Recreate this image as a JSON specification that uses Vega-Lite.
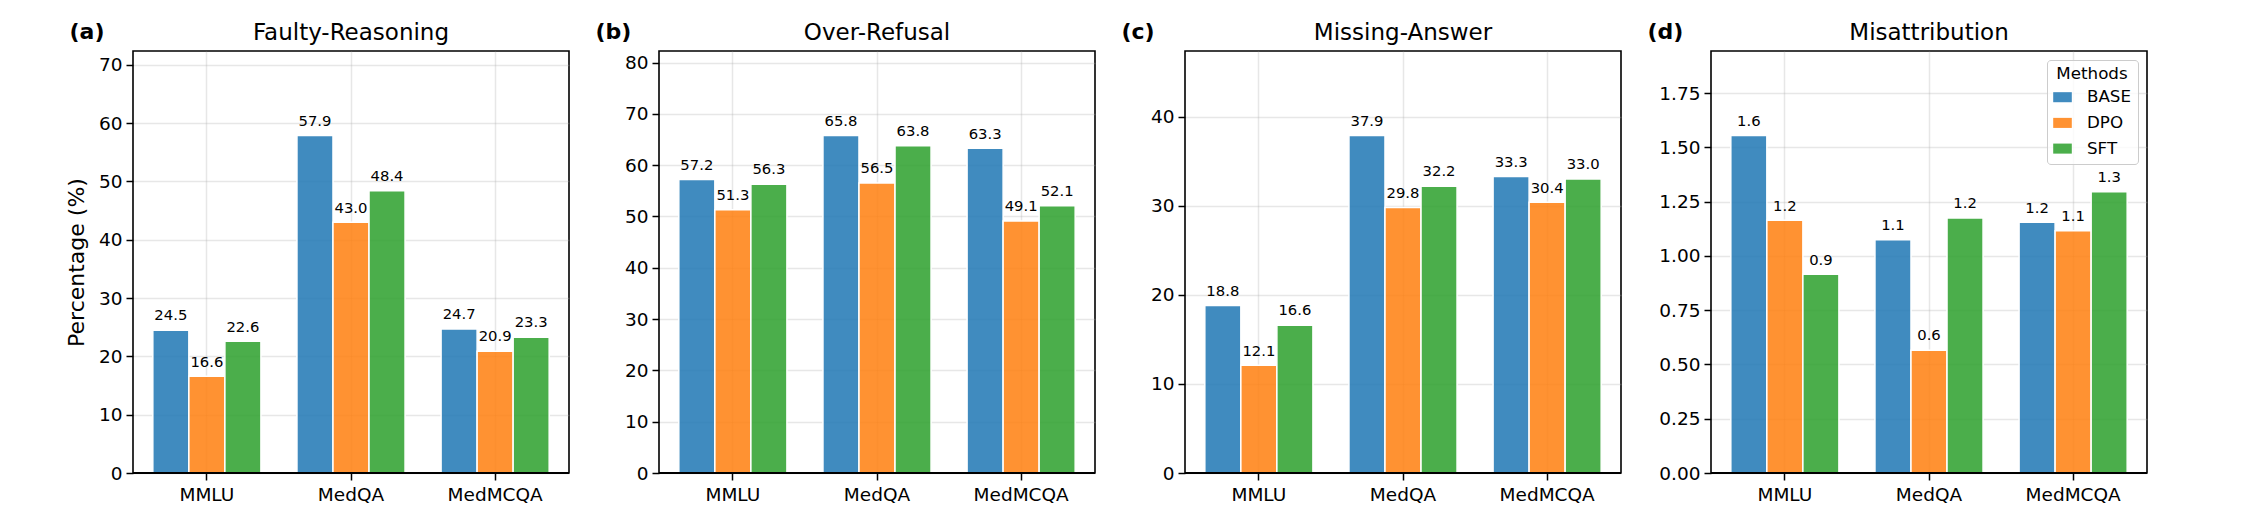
{
  "$schema": "https://vega.github.io/schema/vega-lite/v6.json",
  "background": "white",
  "padding": {"left": 64, "top": 19, "right": 0, "bottom": 0},
  "spacing": 23,
  "datasets": {
    "a": [
      {"dataset": "MMLU", "method": "BASE", "value": 24.5},
      {"dataset": "MMLU", "method": "DPO", "value": 16.6},
      {"dataset": "MMLU", "method": "SFT", "value": 22.6},
      {"dataset": "MedQA", "method": "BASE", "value": 57.9},
      {"dataset": "MedQA", "method": "DPO", "value": 43.0},
      {"dataset": "MedQA", "method": "SFT", "value": 48.4},
      {"dataset": "MedMCQA", "method": "BASE", "value": 24.7},
      {"dataset": "MedMCQA", "method": "DPO", "value": 20.9},
      {"dataset": "MedMCQA", "method": "SFT", "value": 23.3}
    ],
    "b": [
      {"dataset": "MMLU", "method": "BASE", "value": 57.2},
      {"dataset": "MMLU", "method": "DPO", "value": 51.3},
      {"dataset": "MMLU", "method": "SFT", "value": 56.3},
      {"dataset": "MedQA", "method": "BASE", "value": 65.8},
      {"dataset": "MedQA", "method": "DPO", "value": 56.5},
      {"dataset": "MedQA", "method": "SFT", "value": 63.8},
      {"dataset": "MedMCQA", "method": "BASE", "value": 63.3},
      {"dataset": "MedMCQA", "method": "DPO", "value": 49.1},
      {"dataset": "MedMCQA", "method": "SFT", "value": 52.1}
    ],
    "c": [
      {"dataset": "MMLU", "method": "BASE", "value": 18.8},
      {"dataset": "MMLU", "method": "DPO", "value": 12.1},
      {"dataset": "MMLU", "method": "SFT", "value": 16.6},
      {"dataset": "MedQA", "method": "BASE", "value": 37.9},
      {"dataset": "MedQA", "method": "DPO", "value": 29.8},
      {"dataset": "MedQA", "method": "SFT", "value": 32.2},
      {"dataset": "MedMCQA", "method": "BASE", "value": 33.3},
      {"dataset": "MedMCQA", "method": "DPO", "value": 30.4},
      {"dataset": "MedMCQA", "method": "SFT", "value": 33.0}
    ],
    "d": [
      {"dataset": "MMLU", "method": "BASE", "value": 1.555},
      {"dataset": "MMLU", "method": "DPO", "value": 1.164},
      {"dataset": "MMLU", "method": "SFT", "value": 0.915},
      {"dataset": "MedQA", "method": "BASE", "value": 1.075},
      {"dataset": "MedQA", "method": "DPO", "value": 0.566},
      {"dataset": "MedQA", "method": "SFT", "value": 1.175},
      {"dataset": "MedMCQA", "method": "BASE", "value": 1.155},
      {"dataset": "MedMCQA", "method": "DPO", "value": 1.116},
      {"dataset": "MedMCQA", "method": "SFT", "value": 1.296}
    ]
  },
  "hconcat": [
    {
      "width": 436, "height": 422,
      "data": {"name": "a"},
      "title": {"text": "Faulty-Reasoning"},
      "layer": [
        {
          "mark": {"type": "bar", "stroke": "white", "strokeWidth": 1.5, "fillOpacity": 0.85},
          "encoding": {
            "x": {"field": "dataset", "type": "nominal", "sort": ["MMLU", "MedQA", "MedMCQA"], "scale": {"paddingInner": 0, "paddingOuter": 0.0125},
                  "axis": {"title": "(a)", "titleX": -64, "titleY": -434.4, "titleAlign": "left", "titleBaseline": "alphabetic", "titleAngle": 0, "titleFontSize": 22, "titleFontWeight": "bold", "labelAngle": 0, "labelPadding": 5, "grid": true}},
            "xOffset": {"field": "method", "type": "nominal", "sort": ["BASE", "DPO", "SFT"], "scale": {"paddingInner": 0, "paddingOuter": 0.5}},
            "y": {"field": "value", "type": "quantitative", "scale": {"domain": [0, 72.375], "nice": false},
                  "axis": {"values": [0, 10, 20, 30, 40, 50, 60, 70], "title": "Percentage (%)", "titleX": -57, "titleY": 211, "titleAngle": 270, "titleAlign": "center", "titleBaseline": "middle", "titleFontSize": 22, "labelPadding": 4, "grid": true}},
            "color": {"field": "method", "type": "nominal", "scale": {"domain": ["BASE", "DPO", "SFT"], "range": ["#1f77b4", "#ff7f0e", "#2ca02c"]}, "legend": null}
          }
        },
        {
          "mark": {"type": "text", "fontSize": 14.8, "baseline": "alphabetic", "dy": -9.7, "color": "#000"},
          "encoding": {
            "x": {"field": "dataset", "type": "nominal", "sort": ["MMLU", "MedQA", "MedMCQA"]},
            "xOffset": {"field": "method", "type": "nominal", "sort": ["BASE", "DPO", "SFT"]},
            "y": {"field": "value", "type": "quantitative"},
            "text": {"field": "value", "type": "quantitative", "format": ".1f"}
          }
        },
        {
          "mark": {"type": "rule", "color": "#000", "strokeWidth": 1.6},
          "encoding": {"y": {"datum": 0}}
        }
      ]
    },
    {
      "width": 436, "height": 422,
      "data": {"name": "b"},
      "title": {"text": "Over-Refusal"},
      "layer": [
        {
          "mark": {"type": "bar", "stroke": "white", "strokeWidth": 1.5, "fillOpacity": 0.85},
          "encoding": {
            "x": {"field": "dataset", "type": "nominal", "sort": ["MMLU", "MedQA", "MedMCQA"], "scale": {"paddingInner": 0, "paddingOuter": 0.0125},
                  "axis": {"title": "(b)", "titleX": -64, "titleY": -434.4, "titleAlign": "left", "titleBaseline": "alphabetic", "titleAngle": 0, "titleFontSize": 22, "titleFontWeight": "bold", "labelAngle": 0, "labelPadding": 5, "grid": true}},
            "xOffset": {"field": "method", "type": "nominal", "sort": ["BASE", "DPO", "SFT"], "scale": {"paddingInner": 0, "paddingOuter": 0.5}},
            "y": {"field": "value", "type": "quantitative", "scale": {"domain": [0, 82.25], "nice": false},
                  "axis": {"values": [0, 10, 20, 30, 40, 50, 60, 70, 80], "title": null, "labelPadding": 4, "grid": true}},
            "color": {"field": "method", "type": "nominal", "scale": {"domain": ["BASE", "DPO", "SFT"], "range": ["#1f77b4", "#ff7f0e", "#2ca02c"]}, "legend": null}
          }
        },
        {
          "mark": {"type": "text", "fontSize": 14.8, "baseline": "alphabetic", "dy": -9.7, "color": "#000"},
          "encoding": {
            "x": {"field": "dataset", "type": "nominal", "sort": ["MMLU", "MedQA", "MedMCQA"]},
            "xOffset": {"field": "method", "type": "nominal", "sort": ["BASE", "DPO", "SFT"]},
            "y": {"field": "value", "type": "quantitative"},
            "text": {"field": "value", "type": "quantitative", "format": ".1f"}
          }
        },
        {
          "mark": {"type": "rule", "color": "#000", "strokeWidth": 1.6},
          "encoding": {"y": {"datum": 0}}
        }
      ]
    },
    {
      "width": 436, "height": 422,
      "data": {"name": "c"},
      "title": {"text": "Missing-Answer"},
      "layer": [
        {
          "mark": {"type": "bar", "stroke": "white", "strokeWidth": 1.5, "fillOpacity": 0.85},
          "encoding": {
            "x": {"field": "dataset", "type": "nominal", "sort": ["MMLU", "MedQA", "MedMCQA"], "scale": {"paddingInner": 0, "paddingOuter": 0.0125},
                  "axis": {"title": "(c)", "titleX": -64, "titleY": -434.4, "titleAlign": "left", "titleBaseline": "alphabetic", "titleAngle": 0, "titleFontSize": 22, "titleFontWeight": "bold", "labelAngle": 0, "labelPadding": 5, "grid": true}},
            "xOffset": {"field": "method", "type": "nominal", "sort": ["BASE", "DPO", "SFT"], "scale": {"paddingInner": 0, "paddingOuter": 0.5}},
            "y": {"field": "value", "type": "quantitative", "scale": {"domain": [0, 47.375], "nice": false},
                  "axis": {"values": [0, 10, 20, 30, 40], "title": null, "labelPadding": 4, "grid": true}},
            "color": {"field": "method", "type": "nominal", "scale": {"domain": ["BASE", "DPO", "SFT"], "range": ["#1f77b4", "#ff7f0e", "#2ca02c"]}, "legend": null}
          }
        },
        {
          "mark": {"type": "text", "fontSize": 14.8, "baseline": "alphabetic", "dy": -9.7, "color": "#000"},
          "encoding": {
            "x": {"field": "dataset", "type": "nominal", "sort": ["MMLU", "MedQA", "MedMCQA"]},
            "xOffset": {"field": "method", "type": "nominal", "sort": ["BASE", "DPO", "SFT"]},
            "y": {"field": "value", "type": "quantitative"},
            "text": {"field": "value", "type": "quantitative", "format": ".1f"}
          }
        },
        {
          "mark": {"type": "rule", "color": "#000", "strokeWidth": 1.6},
          "encoding": {"y": {"datum": 0}}
        }
      ]
    },
    {
      "width": 436, "height": 422,
      "data": {"name": "d"},
      "title": {"text": "Misattribution"},
      "layer": [
        {
          "mark": {"type": "bar", "stroke": "white", "strokeWidth": 1.5, "fillOpacity": 0.85},
          "encoding": {
            "x": {"field": "dataset", "type": "nominal", "sort": ["MMLU", "MedQA", "MedMCQA"], "scale": {"paddingInner": 0, "paddingOuter": 0.0125},
                  "axis": {"title": "(d)", "titleX": -64, "titleY": -434.4, "titleAlign": "left", "titleBaseline": "alphabetic", "titleAngle": 0, "titleFontSize": 22, "titleFontWeight": "bold", "labelAngle": 0, "labelPadding": 5, "grid": true}},
            "xOffset": {"field": "method", "type": "nominal", "sort": ["BASE", "DPO", "SFT"], "scale": {"paddingInner": 0, "paddingOuter": 0.5}},
            "y": {"field": "value", "type": "quantitative", "scale": {"domain": [0, 1.944], "nice": false},
                  "axis": {"values": [0, 0.25, 0.5, 0.75, 1.0, 1.25, 1.5, 1.75], "format": ".2f", "title": null, "labelPadding": 4, "grid": true}},
            "color": {"field": "method", "type": "nominal", "scale": {"domain": ["BASE", "DPO", "SFT"], "range": ["#1f77b4", "#ff7f0e", "#2ca02c"]},
                      "legend": {"title": "Methods", "orient": "top-right", "offset": 9, "padding": 6, "fillColor": "rgba(255,255,255,0.8)", "strokeColor": "#cccccc", "cornerRadius": 3.5,
                                 "titleFontSize": 16.7, "titleFontWeight": "normal", "titleColor": "#000", "titleAnchor": "middle", "titlePadding": 5,
                                 "labelFontSize": 16.7, "labelColor": "#000", "labelOffset": 15, "symbolType": "M-1,-0.54h2v1.08h-2Z", "symbolSize": 346, "symbolOpacity": 0.85, "symbolStrokeWidth": 0, "rowPadding": 6.7}}
          }
        },
        {
          "mark": {"type": "text", "fontSize": 14.8, "baseline": "alphabetic", "dy": -9.7, "color": "#000"},
          "encoding": {
            "x": {"field": "dataset", "type": "nominal", "sort": ["MMLU", "MedQA", "MedMCQA"]},
            "xOffset": {"field": "method", "type": "nominal", "sort": ["BASE", "DPO", "SFT"]},
            "y": {"field": "value", "type": "quantitative"},
            "text": {"field": "value", "type": "quantitative", "format": ".1f"}
          }
        },
        {
          "mark": {"type": "rule", "color": "#000", "strokeWidth": 1.6},
          "encoding": {"y": {"datum": 0}}
        }
      ]
    }
  ],
  "resolve": {"scale": {"color": "independent"}, "legend": {"color": "independent"}},
  "config": {
    "font": "DejaVu Sans",
    "view": {"stroke": "#000", "strokeWidth": 1.6},
    "axis": {
      "domain": false,
      "labelFont": "DejaVu Sans", "labelFontSize": 18.5, "labelColor": "#000",
      "tickColor": "#000", "tickSize": 7, "tickWidth": 1.5,
      "gridColor": "#b0b0b0", "gridOpacity": 0.3, "gridWidth": 1.5,
      "titleFont": "DejaVu Sans", "titleColor": "#000", "titleFontWeight": "normal"
    },
    "title": {"anchor": "middle", "frame": "group", "fontSize": 23, "fontWeight": "normal", "color": "#000", "font": "DejaVu Sans", "baseline": "alphabetic", "offset": -24.5},
    "legend": {"labelFont": "DejaVu Sans", "titleFont": "DejaVu Sans"}
  }
}
